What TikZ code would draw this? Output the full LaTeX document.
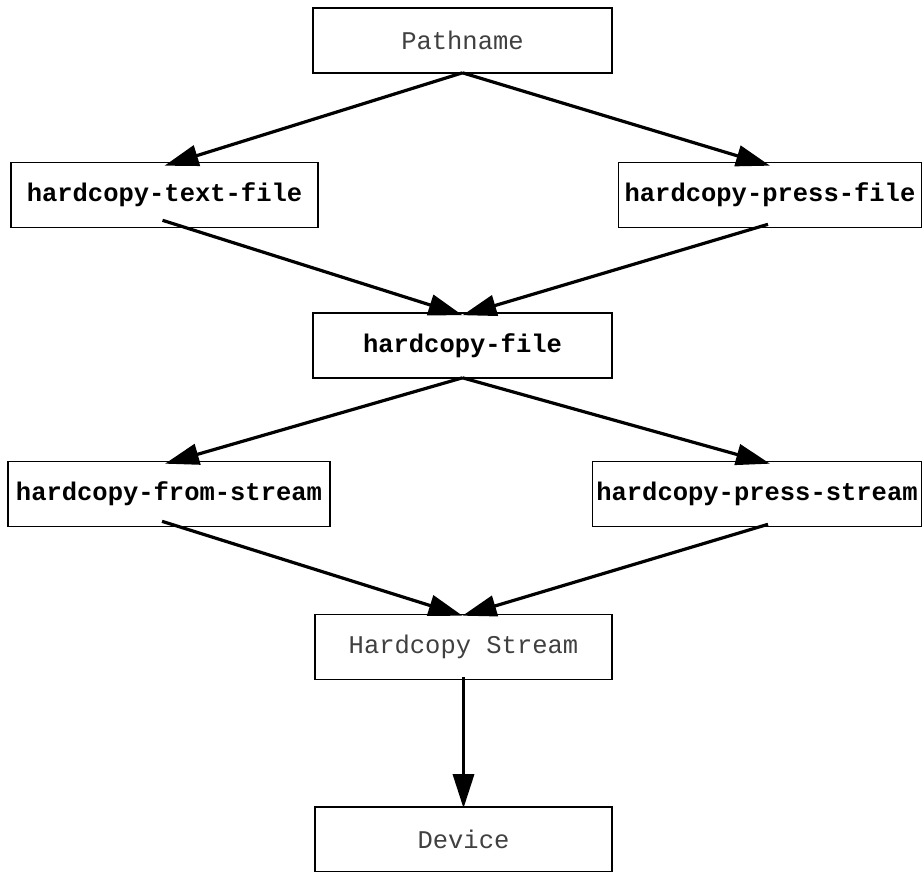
\documentclass[tikz,border=0pt]{standalone}
\usepackage{fontspec}
\setmonofont{Liberation Mono}
\usetikzlibrary{arrows.meta}
\begin{document}
\begin{tikzpicture}[x=1pt,y=-1pt,
  box/.style={draw=black,line width=1.6pt,rectangle,inner sep=0pt,minimum height=65pt,
    font=\fontsize{25.5}{30}\selectfont\ttfamily},
  plain/.style={box,text=black!75},
  strong/.style={box,font=\fontsize{25.5}{30}\selectfont\ttfamily\bfseries},
  arr/.style={line width=3.2pt,-{Triangle[length=34pt,width=21pt]}}]
\useasboundingbox (0,0) rectangle (923,872);
\node[plain,minimum width=299pt] (p) at (462.5,40.5) {Pathname};
\node[strong,minimum width=307pt] (tf) at (164.5,195) {hardcopy-text-file};
\node[strong,minimum width=303pt] (pf) at (770,195) {hardcopy-press-file};
\node[strong,minimum width=299pt] (hf) at (462.5,345.5) {hardcopy-file};
\node[strong,minimum width=322pt] (fs) at (169,494) {hardcopy-from-stream};
\node[strong,minimum width=329pt] (ps) at (757,494) {hardcopy-press-stream};
\node[plain,minimum width=297pt] (hs) at (463.5,647) {Hardcopy Stream};
\node[plain,minimum width=297pt] (dv) at (463.5,839.5) {Device};
\draw[arr] ([yshift=1pt]p.south) -- ([xshift=0pt,yshift=-4pt]tf.north);
\draw[arr] ([yshift=1pt]p.south) -- ([yshift=-4pt]pf.north);
\draw[arr] ([xshift=-2pt,yshift=8pt]tf.south) -- ([yshift=-3pt]hf.north);
\draw[arr] ([xshift=-2pt,yshift=4pt]pf.south) -- ([yshift=-3pt]hf.north);
\draw[arr] ([yshift=1pt]hf.south) -- ([xshift=-4pt,yshift=-3pt]fs.north);
\draw[arr] ([yshift=1pt]hf.south) -- ([xshift=13pt,yshift=-3pt]ps.north);
\draw[arr] ([xshift=-7pt,yshift=6pt]fs.south) -- ([xshift=-1pt,yshift=-2pt]hs.north);
\draw[arr] ([xshift=11pt,yshift=3pt]ps.south) -- ([xshift=-1pt,yshift=-2pt]hs.north);
\draw[arr] ([yshift=3pt]hs.south) -- ([yshift=-2pt]dv.north);
\end{tikzpicture}
\end{document}
